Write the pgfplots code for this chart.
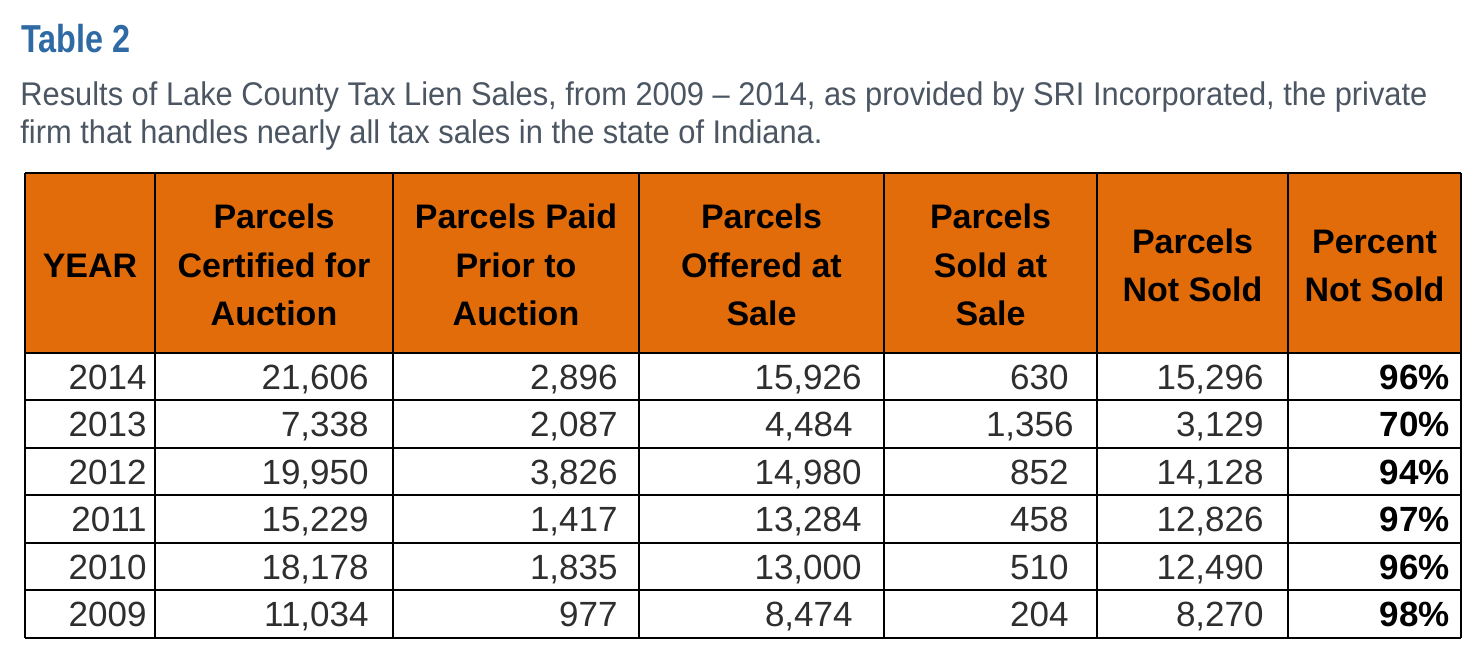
\documentclass[border=0pt]{standalone}
\usepackage{pgfplots}
\pgfplotsset{compat=1.18}
\usepackage{pgfplotstable}
\usepackage{fontspec}
\setmainfont{Liberation Sans}
\newfontfamily\titlefont{Liberation Sans}[FakeStretch=0.83]
\newfontfamily\subfont{Liberation Sans}[FakeStretch=0.94]
\definecolor{hdrorange}{HTML}{E36C0A}
\definecolor{titleblue}{HTML}{2F6AA5}
\definecolor{subgray}{HTML}{4B5662}
\definecolor{datagray}{HTML}{2E2E2E}

\pgfplotstableread[col sep=semicolon,row sep=\\]{
x;y;t\\
21;52;Table 2\\
}\titletab

\pgfplotstableread[col sep=semicolon,row sep=\\]{
x;y;t\\
20;105;Results of Lake County Tax Lien Sales, from 2009 – 2014, as provided by SRI Incorporated, the private\\
20;143;firm that handles nearly all tax sales in the state of Indiana.\\
}\subtab

\pgfplotstableread[col sep=semicolon,row sep=\\]{
x;y;t\\
90;277;YEAR\\
274;228;Parcels\\
274;277;Certified for\\
274;325;Auction\\
516;228;Parcels Paid\\
516;277;Prior to\\
516;325;Auction\\
761.5;228;Parcels\\
761.5;277;Offered at\\
761.5;325;Sale\\
990.5;228;Parcels\\
990.5;277;Sold at\\
990.5;325;Sale\\
1192.5;253;Parcels\\
1192.5;301;Not Sold\\
1374.5;253;Percent\\
1374.5;301;Not Sold\\
}\headtab

\pgfplotstableread[col sep=semicolon,row sep=\\]{
x;y;t\\
147;389;2014\\
147;436.5;2013\\
147;484;2012\\
147;531.5;2011\\
147;579;2010\\
147;626.5;2009\\
369;389;21,606\\
369;436.5;7,338\\
369;484;19,950\\
369;531.5;15,229\\
369;579;18,178\\
369;626.5;11,034\\
618;389;2,896\\
618;436.5;2,087\\
618;484;3,826\\
618;531.5;1,417\\
618;579;1,835\\
618;626.5;977\\
862;389;15,926\\
853;436.5;4,484\\
862;484;14,980\\
862;531.5;13,284\\
862;579;13,000\\
853;626.5;8,474\\
1069;389;630\\
1074;436.5;1,356\\
1069;484;852\\
1069;531.5;458\\
1069;579;510\\
1069;626.5;204\\
1264;389;15,296\\
1264;436.5;3,129\\
1264;484;14,128\\
1264;531.5;12,826\\
1264;579;12,490\\
1264;626.5;8,270\\
}\celltab

\pgfplotstableread[col sep=semicolon,row sep=\\]{
x;y;t\\
1450;389;96\%\\
1450;436.5;70\%\\
1450;484;94\%\\
1450;531.5;97\%\\
1450;579;96\%\\
1450;626.5;98\%\\
}\pcttab

\begin{document}
\begin{tikzpicture}
\begin{axis}[
  width=742pt, height=326.5pt, scale only axis,
  xmin=0, xmax=1484, ymin=0, ymax=653, y dir=reverse,
  hide axis, clip=false,
  gridline/.style={black, line width=1pt, forget plot},
  txt/.style={only marks, mark=none, nodes near coords, point meta=explicit symbolic},
]
% background (sets the picture's extent)
\addplot[fill=white, draw=none] coordinates {(0,0) (1484,0) (1484,653) (0,653)} -- cycle;
% orange header
\addplot[fill=hdrorange, draw=none] coordinates {(25,173) (1461,173) (1461,352.5) (25,352.5)} -- cycle;
% grid lines
\pgfplotsinvokeforeach{25,155,393,639,884,1097,1288,1461}{
  \addplot[gridline] coordinates {(#1,173) (#1,638)};
}
\pgfplotsinvokeforeach{173,352.5,400,447.5,495,542.5,590,638}{
  \addplot[gridline] coordinates {(25,#1) (1461,#1)};
}
% title
\addplot[txt, nodes near coords align={anchor=base west},
  every node near coord/.append style={anchor=base west, inner sep=0pt, text=titleblue,
    font=\titlefont\bfseries\fontsize{19.5}{22}\selectfont}]
  table[x=x, y=y, meta=t] {\titletab};
% subtitle
\addplot[txt, nodes near coords align={anchor=base west},
  every node near coord/.append style={anchor=base west, inner sep=0pt, text=subgray,
    font=\subfont\fontsize{16.4}{19}\selectfont}]
  table[x=x, y=y, meta=t] {\subtab};
% header
\addplot[txt, nodes near coords align={anchor=base},
  every node near coord/.append style={anchor=base, inner sep=0pt, text=black,
    font=\bfseries\fontsize{17}{20}\selectfont}]
  table[x=x, y=y, meta=t] {\headtab};
% cells
\addplot[txt, nodes near coords align={anchor=base east},
  every node near coord/.append style={anchor=base east, inner sep=0pt, text=datagray,
    font=\fontsize{17.5}{20}\selectfont}]
  table[x=x, y=y, meta=t] {\celltab};
% percent
\addplot[txt, nodes near coords align={anchor=base east},
  every node near coord/.append style={anchor=base east, inner sep=0pt, text=black,
    font=\bfseries\fontsize{17.5}{20}\selectfont}]
  table[x=x, y=y, meta=t] {\pcttab};
\end{axis}
\end{tikzpicture}
\end{document}
